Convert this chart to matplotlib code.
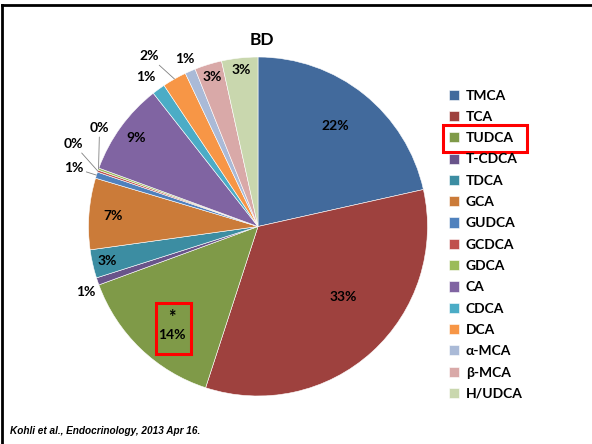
import numpy as np
import matplotlib.pyplot as plt
from matplotlib.patches import Rectangle
from matplotlib.lines import Line2D

# Bile acid composition, group BD (percent of total)
acids = ['TMCA', 'TCA', 'TUDCA', 'T-CDCA', 'TDCA', 'GCA', 'GUDCA', 'GCDCA',
         'GDCA', 'CA', 'CDCA', 'DCA', 'α-MCA', 'β-MCA', 'H/UDCA']
shares = [21.5, 33.5, 14.4, 0.7, 2.7, 6.8, 0.6, 0.2,
          0.2, 8.8, 1.25, 2.3, 1.0, 2.6, 3.45]
pct_labels = ['22%', '33%', '*\n14%', '1%', '3%', '7%', '1%', '0%',
              '0%', '9%', '1%', '2%', '1%', '3%', '3%']

colors = ['#426A9C', '#9E413E', '#7F9A48', '#69548A', '#3C8DA2', '#CB7B39',
          '#4F81BD', '#C0504D', '#9BBB59', '#8064A2', '#4BACC6', '#F79646',
          '#AABAD7', '#D9A9A8', '#C9D7AE']

# label placement: radius (pie radius = 1), angle nudge in degrees, leader line
lab_r = [0.75, 0.65, 0.78, 1.09, 0.91, 0.86, 1.14, 1.19,
         1.10, 0.89, 1.10, 1.19, 1.08, 0.92, 0.93]
lab_dth = [1, 8, 3, 2, 0, 0, 0, -5, -12, 0, 1, 3, 0, 0, 0]
leader = [False, False, False, False, False, False, True, True,
          True, False, False, True, False, False, False]

FONT = ['Lato', 'DejaVu Sans']
plt.rcParams['font.family'] = FONT

fig = plt.figure(figsize=(5.92, 4.44), dpi=100)
W, H = 592, 444

# pie centre at (258, 226.5) px, radius 169.5 px
ax = fig.add_axes([88.5 / W, 48 / H, 339 / W, 339 / H])
wedges, _ = ax.pie(shares, colors=colors, startangle=90, counterclock=False,
                   radius=1, wedgeprops=dict(edgecolor='white', linewidth=0.4))
ax.set_xlim(-1, 1)
ax.set_ylim(-1, 1)
ax.axis('off')

for w, lab, r, dth, lead in zip(wedges, pct_labels, lab_r, lab_dth, leader):
    mid = np.deg2rad((w.theta1 + w.theta2) / 2)
    ang = mid + np.deg2rad(dth)
    tx, ty = r * np.cos(ang), r * np.sin(ang)
    if lead:
        ex, ey = np.cos(mid), np.sin(mid)
        ax.annotate(lab, xy=(ex, ey), xytext=(tx, ty), ha='center', va='center',
                    fontsize=10, fontweight='bold', annotation_clip=False,
                    arrowprops=dict(arrowstyle='-', color='#808080', lw=0.6,
                                    shrinkA=0, shrinkB=0))
    elif lab.startswith('*'):
        ax.text(tx, ty - 0.015, lab.split('\n')[1], ha='center', va='top',
                fontsize=10, fontweight='bold')
        ax.text(tx, ty + 0.05, '*', ha='center', va='center',
                fontsize=13, fontweight='bold')
    else:
        ax.text(tx, ty, lab, ha='center', va='center', fontsize=10,
                fontweight='bold')

fig.text(262 / W, 1 - 40 / H, 'BD', ha='center', va='center',
         fontsize=12.5, fontweight='bold')

leg = fig.legend(wedges, acids, loc='upper left',
                 bbox_to_anchor=(443 / W, 1 - 84 / H), frameon=False,
                 handlelength=0.75, handleheight=0.75, handletextpad=0.5,
                 labelspacing=0.67, borderaxespad=0,
                 prop=dict(family=FONT, weight='bold', size=10))

# red highlight boxes
fig.add_artist(Rectangle((443 / W, 1 - 152 / H), 84 / W, 27 / H,
                         transform=fig.transFigure, fill=False,
                         edgecolor='#FF0000', lw=2.2))
fig.add_artist(Rectangle((156 / W, 1 - 354 / H), 35 / W, 51 / H,
                         transform=fig.transFigure, fill=False,
                         edgecolor='#FF0000', lw=2.2))

# slide frame (top and left edges)
fig.add_artist(Line2D([2 / W, 1], [1 - 5 / H, 1 - 5 / H],
                      transform=fig.transFigure, color='black', lw=2))
fig.add_artist(Line2D([2 / W, 2 / W], [0, 1 - 5 / H],
                      transform=fig.transFigure, color='black', lw=2))

fig.text(10 / W, 1 - 431 / H, 'Kohli et al., Endocrinology, 2013 Apr 16.',
         ha='left', va='center', fontsize=7.2, fontweight='bold',
         fontstyle='italic', family='Liberation Sans')

fig.savefig('out.png', dpi=100)
